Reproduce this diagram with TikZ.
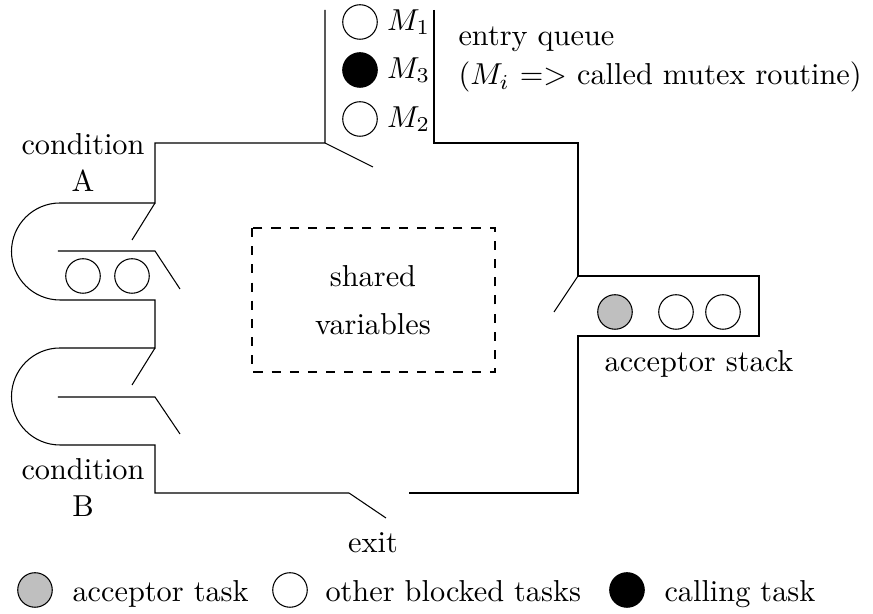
\documentclass[tikz,border=0pt]{standalone}
\usepackage{amsmath, amssymb}

\begin{document}
\begin{tikzpicture}[x=0.33pt, y=-0.33pt, line width=0.35pt,
	task/.style={shape=circle, draw, inner sep=0pt, minimum size=11.4pt},
	caller/.style={task, fill=black},
	acceptor/.style={task, fill=black!25},
	mlbl/.style={anchor=west, inner sep=0pt, xshift=2.9pt},
	lbl/.style={anchor=base, inner sep=0pt}]
	\useasboundingbox (0,0) rectangle (873,614);
	% Walls and doors:
	\draw (325,10) -- (325,143) -- (155,143) -- (155,203) -- (60,203) arc (270:90:48.5) -- (155,300) -- (155,348) -- (60,348) arc (270:90:48.5) -- (155,445) -- (155,493) -- (349,493);
	\draw (434,10) -- (434,143) -- (578,143) -- (578,276) -- (759,276) -- (759,336) -- (578,336) -- (578,493) -- (409,493);
	\draw (325,143) -- (373,167);
	\draw (578,276) -- (554,312);
	\draw (155,203) -- (132,240);
	\draw (155,348) -- (132,385);
	\draw (349,493) -- (386,518);
	\draw (58,251) -- (155,251) -- (180,289);
	\draw (58,397) -- (155,397) -- (180,434);
	\draw[dashed] (252,228) rectangle (495,372);
	% Entry queue:
	\node[task] (m1) at (360,22){};
	\node[caller] (m3) at (360,70){};
	\node[task] (m2) at (360,119){};
	\node[mlbl] (m1lbl) at (m1.east){$M_1$};
	\node[mlbl] (m3lbl) at (m3.east){$M_3$};
	\node[mlbl] (m2lbl) at (m2.east){$M_2$};
	\node[anchor=base west, inner sep=0pt] (entry) at (458,46){entry queue};
	\node[anchor=base west, inner sep=0pt] (entrynote) at (458,85){($M_i$ => called mutex routine)};
	% Condition queues:
	\node[task] (ca1) at (83,276){};
	\node[task] (ca2) at (132,276){};
	\node[lbl] (condA) at (83,155){condition};
	\node[lbl] (condAname) at (83,192){A};
	\node[lbl] (condB) at (83,480){condition};
	\node[lbl] (condBname) at (83,517){B};
	% Acceptor stack:
	\node[acceptor] (as1) at (615,312){};
	\node[task] (as2) at (676,312){};
	\node[task] (as3) at (723,312){};
	\node[lbl] (stack) at (699,372){acceptor stack};
	\node[lbl] (shared) at (373,287){shared};
	\node[lbl] (vars) at (373,335){variables};
	\node[lbl] (exit) at (373,553){exit};
	% Legend:
	\node[acceptor] (lgacc) at (35,590){};
	\node[anchor=base west, inner sep=0pt] (lgacclbl) at (72,602){acceptor task};
	\node[task] (lgblk) at (290,590){};
	\node[anchor=base west, inner sep=0pt] (lgblklbl) at (325,602){other blocked tasks};
	\node[caller] (lgcall) at (627,590){};
	\node[anchor=base west, inner sep=0pt] (lgcalllbl) at (664,602){calling task};
\end{tikzpicture}
\end{document}
